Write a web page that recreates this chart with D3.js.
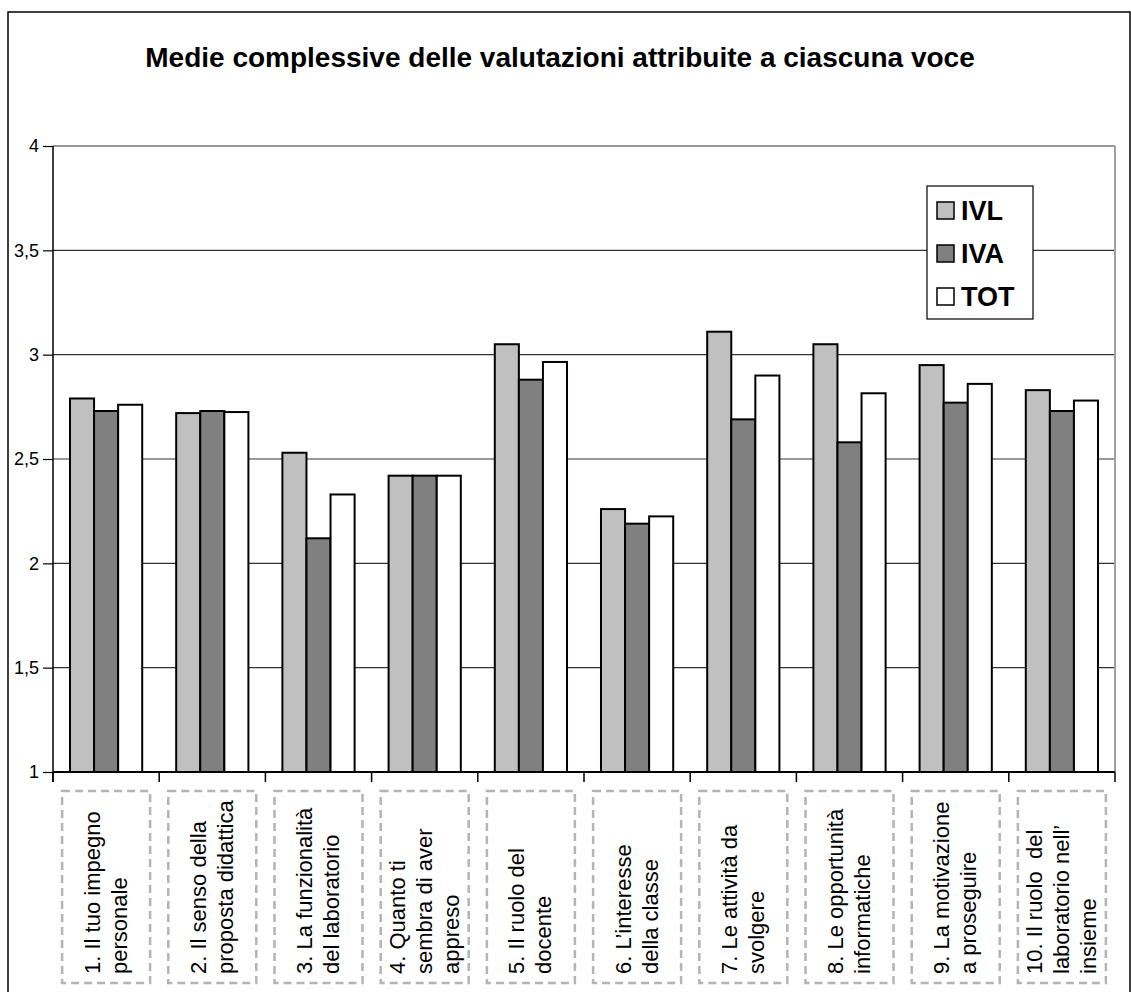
<!DOCTYPE html>
<html>
<head>
<meta charset="utf-8">
<script src="https://cdn.jsdelivr.net/npm/d3@7"></script>
<style>
  html, body { margin: 0; padding: 0; background: #fff; }
  svg { display: block; font-family: Arial, "Liberation Sans", sans-serif; }
</style>
</head>
<body>
<svg id="chart" width="1131" height="992"></svg>
<script>
const title = "Medie complessive delle valutazioni attribuite a ciascuna voce";
const categories = ["c1","c2","c3","c4","c5","c6","c7","c8","c9","c10"];
const categoryLabels = [
  ["1. Il tuo impegno", "personale"],
  ["2. Il senso della", "proposta didattica"],
  ["3. La funzionalità", "del laboratorio"],
  ["4. Quanto ti", "sembra di aver", "appreso"],
  ["5. Il ruolo del", "docente"],
  ["6. L’interesse", "della classe"],
  ["7. Le attività da", "svolgere"],
  ["8. Le opportunità", "informatiche"],
  ["9. La motivazione", "a proseguire"],
  ["10. Il ruolo  del", "laboratorio nell’", "insieme"]
];
const seriesNames = ["IVL", "IVA", "TOT"];
const seriesColors = ["#c0c0c0", "#808080", "#ffffff"];
const valuesIVL = [2.79, 2.72, 2.53, 2.42, 3.05, 2.26, 3.11, 3.05, 2.95, 2.83];
const valuesIVA = [2.73, 2.73, 2.12, 2.42, 2.88, 2.19, 2.69, 2.58, 2.77, 2.73];
const valuesTOT = [2.76, 2.725, 2.33, 2.42, 2.965, 2.225, 2.90, 2.815, 2.86, 2.78];
const yTicks = [1, 1.5, 2, 2.5, 3, 3.5, 4];
const yTickLabels = ["1", "1,5", "2", "2,5", "3", "3,5", "4"];

const seriesValues = [valuesIVL, valuesIVA, valuesTOT];

(function () {
const svg = d3.select("#chart");
svg.append("rect").attr("width", 1131).attr("height", 992).attr("fill", "#fff");

// outer chart border
svg.append("rect")
  .attr("x", 8).attr("y", 12).attr("width", 1122).attr("height", 1000)
  .attr("fill", "none").attr("stroke", "#000").attr("stroke-width", 1.5);

// title
svg.append("text")
  .attr("x", 560).attr("y", 67)
  .attr("text-anchor", "middle")
  .attr("font-weight", "bold").attr("font-size", 28)
  .text(title);

const pLeft = 53, pRight = 1115, pTop = 146, pBottom = 772;
const y = d3.scaleLinear().domain([1, 4]).range([pBottom, pTop]);
const x = d3.scaleBand().domain(categories).range([pLeft, pRight]).paddingInner(0.32).paddingOuter(0.16);
const xs = d3.scaleBand().domain(seriesNames).range([0, x.bandwidth()]);

// gridlines
svg.append("g").selectAll("line").data(yTicks.filter(t => t > 1)).join("line")
  .attr("x1", pLeft).attr("x2", pRight)
  .attr("y1", d => y(d)).attr("y2", d => y(d))
  .attr("stroke", "#333").attr("stroke-width", 1.2);

// right border of plot area
svg.append("line").attr("x1", pRight).attr("x2", pRight).attr("y1", pTop).attr("y2", pBottom)
  .attr("stroke", "#a0a0a0").attr("stroke-width", 2);

// bars
const groups = svg.append("g").selectAll("g").data(categories).join("g")
  .attr("transform", d => `translate(${x(d)},0)`);
groups.selectAll("rect").data((d, i) => seriesNames.map((s, j) => ({ s, j, v: seriesValues[j][i] })))
  .join("rect")
  .attr("x", d => xs(d.s))
  .attr("y", d => y(d.v))
  .attr("width", xs.bandwidth())
  .attr("height", d => y(1) - y(d.v))
  .attr("fill", d => seriesColors[d.j])
  .attr("stroke", "#000").attr("stroke-width", 2);

// y axis
const yAxis = d3.axisLeft(y).tickValues(yTicks).tickFormat((d, i) => yTickLabels[i]).tickSize(10).tickPadding(4);
const gy = svg.append("g").attr("transform", `translate(${pLeft},0)`).call(yAxis);
gy.select(".domain").attr("stroke", "#000").attr("stroke-width", 1.5).attr("d", `M0,${pTop}V${pBottom + 10}`);
gy.selectAll(".tick line").attr("stroke", "#000").attr("stroke-width", 1.2);
gy.selectAll(".tick text").attr("font-size", 18).attr("font-family", "Arial, 'Liberation Sans', sans-serif").attr("fill", "#000");

// x axis line and ticks at category boundaries
svg.append("line").attr("x1", pLeft).attr("x2", pRight).attr("y1", pBottom).attr("y2", pBottom)
  .attr("stroke", "#000").attr("stroke-width", 2);
const bounds = categories.map(c => x(c) - x.step() * x.paddingInner() / 2).concat([pRight]);
svg.append("g").selectAll("line").data(bounds).join("line")
  .attr("x1", d => d).attr("x2", d => d).attr("y1", pBottom).attr("y2", pBottom + 10)
  .attr("stroke", "#000").attr("stroke-width", 1.5);

// category label boxes
const lab = svg.append("g").selectAll("g").data(categories).join("g")
  .attr("transform", d => `translate(${x(d) + x.bandwidth() / 2},0)`);
lab.append("rect")
  .attr("x", -44).attr("y", 791).attr("width", 88).attr("height", 192)
  .attr("fill", "none").attr("stroke", "#b4b4b4").attr("stroke-width", 2.5)
  .attr("stroke-dasharray", "8,5");
lab.each(function(d, i) {
  const lines = categoryLabels[i];
  const n = lines.length;
  d3.select(this).selectAll("text").data(lines).join("text")
    .attr("transform", (t, k) => `translate(${(k - (n - 1) / 2) * 27 - 1},974) rotate(-90)`)
    .attr("dy", "0.36em")
    .attr("font-size", 22)
    .attr("text-anchor", "start")
    .style("white-space", "pre")
    .text(t => t);
});

// legend
const lg = svg.append("g").attr("transform", "translate(927,186)");
lg.append("rect").attr("width", 106).attr("height", 133).attr("fill", "#fff").attr("stroke", "#000").attr("stroke-width", 1.2);
const items = lg.selectAll("g").data(seriesNames).join("g")
  .attr("transform", (d, i) => `translate(10,${24 + i * 43})`);
items.append("rect").attr("x", 0).attr("y", -8).attr("width", 17).attr("height", 17)
  .attr("fill", (d, i) => seriesColors[i]).attr("stroke", "#000").attr("stroke-width", 1.5);
items.append("text").attr("x", 24).attr("y", 0).attr("dy", "0.36em")
  .attr("font-weight", "bold").attr("font-size", 27).text(d => d);
})();
</script>
</body>
</html>
